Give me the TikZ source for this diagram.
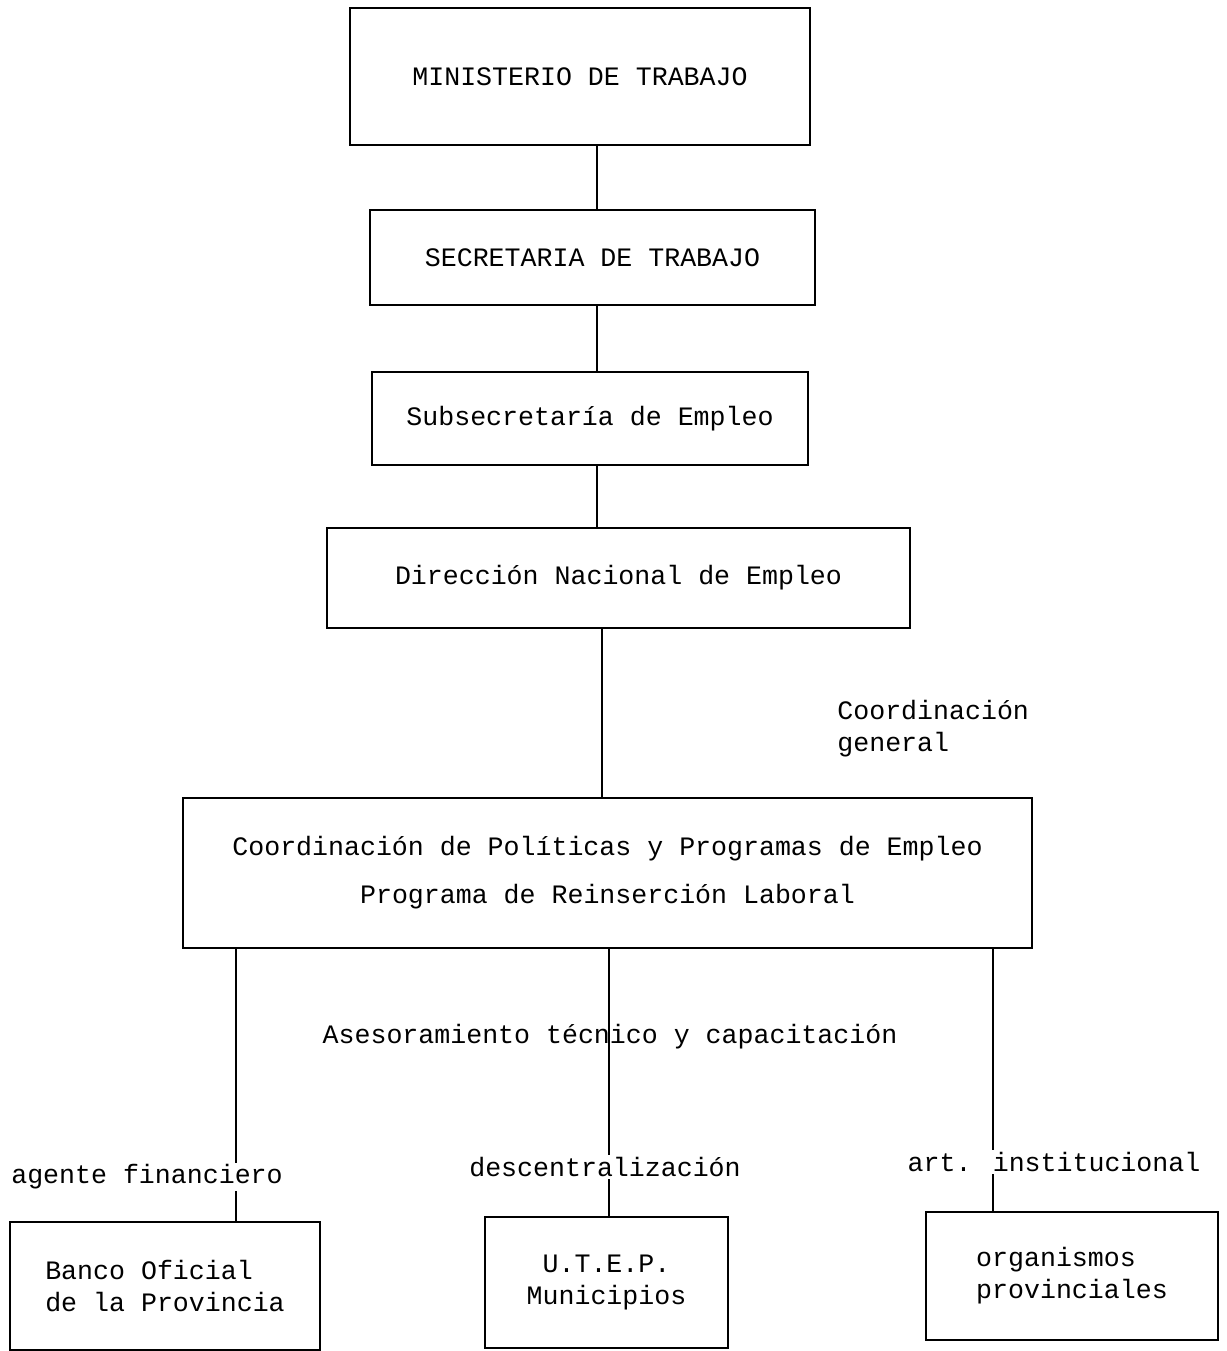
\documentclass[tikz,border=0pt]{standalone}
\usepackage{fontspec}
\newfontfamily\typew{Liberation Mono}
\usetikzlibrary{positioning}
\tikzset{box/.style = {draw, line width=1pt, inner sep=0,
                       font=\typew\fontsize{13.3}{16}\selectfont}}
\tikzset{tag/.style = {inner sep=1pt, font=\typew\fontsize{13.3}{16}\selectfont}}
\tikzset{link/.style = {line width=1pt}}

\begin{document}
\begin{tikzpicture}[x=0.5pt, y=-0.5pt]
      \useasboundingbox (0,0) rectangle (1227,1351);
      \node [box, minimum width=230pt, minimum height=68.5pt] (mt) at (580,76.5) {MINISTERIO DE TRABAJO};
      \node [box, minimum width=222.5pt, minimum height=47.5pt] (st) at (592.5,257.5) {SECRETARIA DE TRABAJO};
      \node [box, minimum width=218pt, minimum height=46.5pt] (se) at (590,418.5) {Subsecretaría de Empleo};
      \node [box, minimum width=291.5pt, minimum height=50pt] (dn) at (618.5,578) {Dirección Nacional de Empleo};
      \node [box, minimum width=424.5pt, minimum height=75pt, align=center] (cp) at (607.5,873)
            {Coordinación de Políticas y Programas de Empleo\\[8pt] Programa de Reinserción Laboral};
      \node [box, minimum width=155pt, minimum height=64pt, align=left] (bo) at (165,1286) {Banco Oficial\\de la Provincia};
      \node [box, minimum width=121.5pt, minimum height=65.5pt, align=center] (ut) at (606.5,1282.5) {U.T.E.P.\\Municipios};
      \node [box, minimum width=146pt, minimum height=64pt, align=left] (op) at (1072,1276) {organismos\\provinciales};
      \coordinate (spine) at (597,0);
      \coordinate (mid) at (609,0);
      \coordinate (lft) at (236,0);
      \coordinate (rgt) at (993,0);
      \draw [link] (mt.south -| spine) -- (st.north -| spine);
      \draw [link] (st.south -| spine) -- (se.north -| spine);
      \draw [link] (se.south -| spine) -- (dn.north -| spine);
      \draw [link] (dn.south -| 602,0) -- (cp.north -| 602,0);
      \draw [link] (cp.south -| lft) -- (bo.north -| lft);
      \draw [link] (cp.south -| mid) -- (ut.north -| mid);
      \draw [link] (cp.south -| rgt) -- (op.north -| rgt);
      \node [tag, align=left, anchor=west] (cg) at (835,729) {Coordinación\\general};
      \node [tag] (as) at (610,1037) {Asesoramiento técnico y capacitación};
      \node [tag, fill=white] (af) at (147,1177) {agente financiero};
      \node [tag, fill=white] (de) at (605,1167) {descentralización};
      \node [tag, fill=white] (ai) at (1054,1162) {art. institucional};
\end{tikzpicture}
\end{document}
